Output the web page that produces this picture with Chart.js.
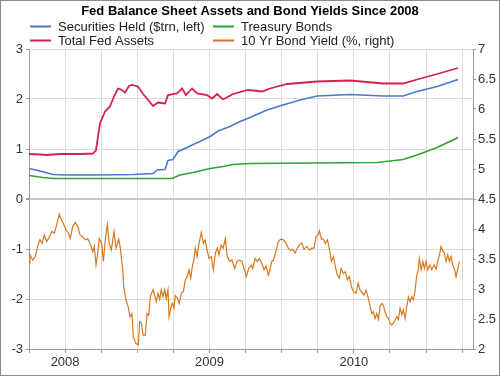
<!DOCTYPE html>
<html>
<head>
<meta charset="utf-8">
<script src="https://cdn.jsdelivr.net/npm/chart.js@4.4.1/dist/chart.umd.min.js"></script>
<style>
  html, body { margin: 0; padding: 0; background: #fff; }
  #wrap { width: 500px; height: 376px; }
</style>
</head>
<body>
<div id="wrap"><canvas id="chart" width="500" height="376"></canvas></div>
<script>
// x values are months counted from Jan 2008 (3 = Apr 2008, 12 = Jan 2009 ...)
const chartTitle = 'Fed Balance Sheet Assets and Bond Yields Since 2008';
const quarterTicks = [3, 6, 9, 12, 15, 18, 21, 24, 27, 30, 33, 36, 39];
const yearLabels = { 6: '2008', 18: '2009', 30: '2010' };

const securitiesMonths = [3.00, 3.91, 5.00, 6.16, 8.65, 11.65, 13.31, 13.64, 14.31, 14.55, 14.97, 15.39, 16.13, 16.55, 17.21, 18.05, 18.71, 19.71, 20.54, 21.37, 22.78, 24.11, 25.53, 26.94, 29.68, 32.43, 34.09, 35.25, 36.92, 38.66];
const securitiesHeld = [0.61, 0.56, 0.49, 0.48, 0.48, 0.49, 0.51, 0.58, 0.59, 0.77, 0.79, 0.95, 1.03, 1.08, 1.15, 1.25, 1.36, 1.45, 1.55, 1.63, 1.78, 1.88, 1.98, 2.06, 2.09, 2.06, 2.06, 2.15, 2.25, 2.39];

const totalMonths = [3.00, 3.91, 4.50, 5.58, 7.24, 8.32, 8.57, 8.90, 9.32, 9.73, 10.06, 10.40, 10.65, 10.98, 11.31, 11.56, 12.06, 12.48, 12.81, 13.31, 13.72, 14.31, 14.55, 15.30, 15.72, 16.05, 16.55, 16.97, 17.80, 18.21, 18.63, 19.13, 19.96, 21.20, 22.37, 23.03, 24.45, 26.94, 29.68, 32.43, 34.09, 35.25, 36.92, 38.66];
const totalFedAssets = [0.90, 0.89, 0.88, 0.90, 0.90, 0.91, 0.98, 1.51, 1.75, 1.85, 2.05, 2.21, 2.19, 2.13, 2.26, 2.28, 2.25, 2.10, 2.01, 1.86, 1.93, 1.91, 2.08, 2.11, 2.21, 2.08, 2.21, 2.11, 2.08, 2.01, 2.10, 1.99, 2.10, 2.18, 2.15, 2.21, 2.30, 2.35, 2.37, 2.31, 2.31, 2.39, 2.50, 2.62];

const treasuryMonths = [3.00, 4.16, 5.00, 14.89, 15.55, 16.63, 18.05, 19.13, 19.96, 21.37, 31.93, 34.09, 35.25, 36.92, 38.66];
const treasuryBonds = [0.47, 0.43, 0.41, 0.41, 0.48, 0.53, 0.61, 0.65, 0.69, 0.71, 0.73, 0.79, 0.88, 1.03, 1.23];

const yieldMonths = [3.00, 3.08, 3.31, 3.52, 3.72, 3.91, 4.08, 4.27, 4.47, 4.69, 4.91, 5.10, 5.30, 5.52, 5.68, 5.85, 6.08, 6.30, 6.43, 6.63, 6.85, 7.05, 7.24, 7.46, 7.68, 7.88, 8.07, 8.30, 8.43, 8.57, 8.71, 8.84, 9.04, 9.18, 9.34, 9.51, 9.67, 9.84, 10.07, 10.23, 10.46, 10.59, 10.79, 10.87, 11.06, 11.23, 11.40, 11.56, 11.67, 11.89, 12.09,
  12.20, 12.34, 12.48, 12.67, 12.81, 12.95, 13.08, 13.31, 13.45, 13.58, 13.72, 13.86, 13.99, 14.14, 14.28, 14.41, 14.55, 14.64, 14.78, 14.91, 15.05, 15.16, 15.33, 15.49, 15.66, 15.83, 15.99, 16.16, 16.30, 16.44, 16.57, 16.72, 16.82, 16.97, 17.13, 17.32, 17.49, 17.63, 17.80, 17.96, 18.15, 18.32, 18.49, 18.65, 18.79, 18.96, 19.13, 19.32, 19.48, 19.68, 19.87, 20.10, 20.29, 20.51, 20.71, 20.87, 21.06, 21.26,
  21.47, 21.60, 21.79, 21.98, 22.14, 22.34, 22.53, 22.70, 22.89, 23.03, 23.17, 23.31, 23.45, 23.59, 23.72, 23.92, 24.14, 24.36, 24.55, 24.75, 24.92, 25.11, 25.30, 25.47, 25.67, 25.86, 26.08, 26.30, 26.50, 26.69, 26.86, 27.02, 27.13, 27.30, 27.46, 27.63, 27.80, 27.96, 28.13, 28.30, 28.46, 28.63, 28.79, 28.94, 29.13, 29.29, 29.46, 29.63, 29.79, 29.96, 30.18, 30.35,
  30.51, 30.84, 31.01, 31.21, 31.35, 31.49, 31.62, 31.76, 31.90, 32.04, 32.18, 32.32, 32.45, 32.59, 32.73, 32.87, 33.01, 33.15, 33.28, 33.42, 33.57, 33.70, 33.84, 33.98, 34.11, 34.26, 34.40, 34.53, 34.67, 34.81, 34.95, 35.09, 35.23, 35.36, 35.44, 35.59, 35.73, 35.86, 36.00, 36.14, 36.33, 36.47, 36.67, 36.83, 36.97, 37.11, 37.25, 37.39, 37.52, 37.66, 37.80, 37.94, 38.08, 38.22, 38.35, 38.49, 38.64, 38.77];
const bondYield = [3.43, 3.57, 3.48, 3.54, 3.71, 3.82, 3.76, 3.90, 3.79, 3.87, 3.96, 3.93, 4.07, 4.25, 4.16, 4.09, 3.98, 3.93, 3.84, 4.04, 4.11, 4.04, 3.90, 3.87, 3.82, 3.84, 3.76, 3.62, 3.71, 3.40, 3.59, 3.84, 3.76, 3.46, 3.82, 4.07, 3.76, 3.65, 3.96, 3.68, 3.83, 3.68, 3.32, 3.04, 2.82, 2.71, 2.54, 2.59, 2.20, 2.09, 2.07,
  2.46, 2.43, 2.23, 2.23, 2.59, 2.56, 2.87, 2.99, 2.89, 2.79, 2.93, 2.83, 2.99, 2.87, 2.99, 2.84, 2.99, 2.54, 2.68, 2.76, 2.68, 2.89, 2.85, 2.76, 2.93, 2.96, 3.15, 3.21, 3.32, 3.18, 3.37, 3.51, 3.68, 3.54, 3.76, 3.94, 3.76, 3.82, 3.65, 3.51, 3.54, 3.32, 3.60, 3.68, 3.57, 3.73, 3.68, 3.84, 3.54, 3.46, 3.48, 3.34, 3.46, 3.48, 3.46, 3.34, 3.21, 3.34,
  3.40, 3.34, 3.51, 3.46, 3.51, 3.43, 3.32, 3.38, 3.23, 3.32, 3.46, 3.48, 3.57, 3.68, 3.79, 3.83, 3.82, 3.76, 3.68, 3.64, 3.66, 3.60, 3.68, 3.73, 3.77, 3.66, 3.71, 3.65, 3.68, 3.68, 3.87, 3.90, 3.97, 3.83, 3.83, 3.76, 3.82, 3.68, 3.46, 3.54, 3.37, 3.23, 3.18, 3.34, 3.26, 3.29, 3.15, 3.21, 3.04, 2.96, 2.93, 3.10,
  2.98, 2.90, 2.98, 2.84, 2.71, 2.59, 2.62, 2.51, 2.59, 2.49, 2.71, 2.76, 2.73, 2.62, 2.54, 2.51, 2.43, 2.40, 2.43, 2.48, 2.54, 2.49, 2.68, 2.57, 2.65, 2.51, 2.71, 2.87, 2.79, 2.87, 2.82, 2.98, 3.23, 3.32, 3.51, 3.32, 3.46, 3.34, 3.46, 3.32, 3.40, 3.32, 3.40, 3.33, 3.46, 3.57, 3.71, 3.64, 3.60, 3.46, 3.57, 3.46, 3.54, 3.40, 3.34, 3.20, 3.34, 3.46];

const FONT = 'Liberation Sans, Arial, sans-serif';
const pairs = (xs, ys) => xs.map((x, i) => ({ x: x, y: ys[i] }));

// legend in two columns, title on top, grey frame round the picture
const decor = {
  id: 'decor',
  afterDraw(chart) {
    const ctx = chart.ctx;
    ctx.save();
    ctx.fillStyle = '#000';
    ctx.font = 'bold 13px ' + FONT;
    ctx.textAlign = 'center';
    ctx.textBaseline = 'middle';
    ctx.fillText(chartTitle, 250, 11);

    const slots = [[30, 26], [30, 40], [213, 26], [213, 40]];
    ctx.font = '13px ' + FONT;
    ctx.textAlign = 'left';
    chart.data.datasets.forEach(ds => {
      const [x, y] = slots[ds.slot];
      ctx.strokeStyle = ds.borderColor;
      ctx.lineWidth = 2;
      ctx.beginPath();
      ctx.moveTo(x, y + 0.5);
      ctx.lineTo(x + 21, y + 0.5);
      ctx.stroke();
      ctx.fillStyle = '#222';
      ctx.fillText(ds.label, x + 28, y + 1);
    });

    ctx.strokeStyle = '#8a8a8a';
    ctx.lineWidth = 1;
    ctx.strokeRect(0.5, 0.5, 499, 375);
    ctx.restore();
  }
};

new Chart(document.getElementById('chart'), {
  type: 'line',
  data: {
    datasets: [
      { label: 'Securities Held ($trn, left)', slot: 0, data: pairs(securitiesMonths, securitiesHeld), borderColor: '#4a78cf', yAxisID: 'yL', borderWidth: 1.6 },
      { label: 'Total Fed Assets', slot: 1, data: pairs(totalMonths, totalFedAssets), borderColor: '#d3234d', yAxisID: 'yL', borderWidth: 1.8 },
      { label: 'Treasury Bonds', slot: 2, data: pairs(treasuryMonths, treasuryBonds), borderColor: '#2ea52e', yAxisID: 'yL', borderWidth: 1.6 },
      { label: '10 Yr Bond Yield (%, right)', slot: 3, data: pairs(yieldMonths, bondYield), borderColor: '#d8781e', yAxisID: 'yR', borderWidth: 1.2 }
    ]
  },
  options: {
    responsive: false,
    animation: false,
    devicePixelRatio: 1,
    layout: { padding: { top: 49, left: 0, right: 0, bottom: 0 } },
    elements: { point: { radius: 0 }, line: { tension: 0 } },
    plugins: { legend: { display: false }, tooltip: { enabled: false }, title: { display: false } },
    scales: {
      x: {
        type: 'linear', position: 'bottom', min: 3, max: 39.9,
        afterBuildTicks: s => { s.ticks = quarterTicks.map(v => ({ value: v })); },
        afterFit: s => { s.height = 27; },
        ticks: { autoSkip: false, maxRotation: 0, padding: 2, color: '#333', font: { family: FONT, size: 13 },
                 callback: v => yearLabels[v] || '' },
        grid: { color: '#dcdcdc', tickLength: 4, tickColor: '#999' },
        border: { color: '#999' }
      },
      yL: {
        position: 'left', min: -3, max: 3,
        afterFit: s => { s.width = 29; },
        ticks: { stepSize: 1, padding: 3, color: '#333', font: { family: FONT, size: 13 } },
        grid: {
          color: c => c.tick && c.tick.value === 0 ? '#c6c6c6' : '#dcdcdc',
          lineWidth: c => c.tick && c.tick.value === 0 ? 2 : 1,
          tickLength: 3, tickColor: '#999'
        },
        border: { color: '#999' }
      },
      yR: {
        position: 'right', min: 2, max: 7,
        afterFit: s => { s.width = 27; },
        ticks: { stepSize: 0.5, padding: 2, color: '#333', font: { family: FONT, size: 13 },
                 callback: v => String(v) },
        grid: { drawOnChartArea: false, tickLength: 3, tickColor: '#999' },
        border: { color: '#999' }
      }
    }
  },
  plugins: [decor]
});
</script>
</body>
</html>
